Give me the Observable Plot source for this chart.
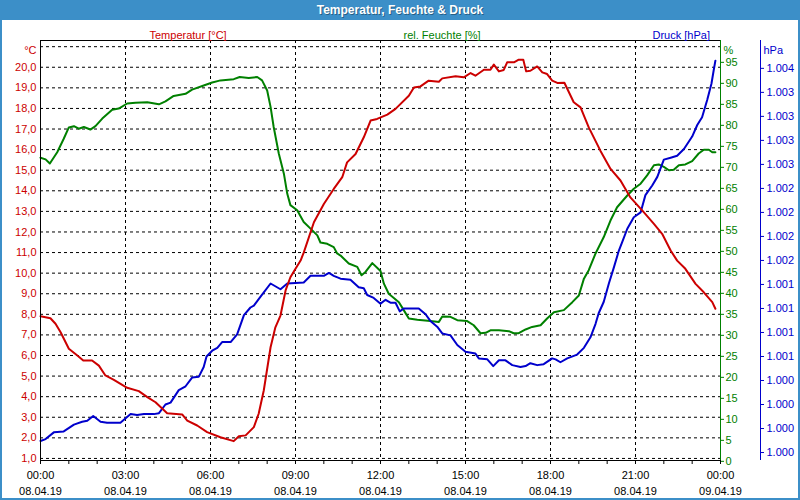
<!DOCTYPE html>
<html><head><meta charset="utf-8">
<script src="https://cdn.jsdelivr.net/npm/d3@7"></script>
<script src="https://cdn.jsdelivr.net/npm/@observablehq/plot@0.6"></script>
<style>
html,body{margin:0;padding:0;background:#fff;}
#win{position:relative;width:800px;height:500px;background:#3c8fc8;overflow:hidden;font-family:"Liberation Sans",Arial,sans-serif;}
#title{position:absolute;left:0;top:0;width:800px;height:20px;line-height:20px;text-align:center;color:#fff;font-weight:bold;font-size:12px;text-shadow:1px 1px 0 rgba(0,0,0,0.35);}
#chart{position:absolute;left:2px;top:20px;width:796px;height:478px;background:#fff;}
</style></head>
<body><div id="win"><div id="title">Temperatur, Feuchte &amp; Druck</div><div id="chart"></div></div>
<script>
// ---- Data (hours since 08.04.19 00:00) ----
const tempHours = [0.00,0.35,0.53,0.71,1.00,1.30,1.51,1.82,2.06,2.29,2.59,3.06,3.47,3.77,4.06,4.47,5.00,5.18,5.53,5.88,6.35,6.82,7.00,7.24,7.53,7.70,7.88,8.12,8.29,8.47,8.65,8.82,9.00,9.18,9.29,9.65,10.00,10.35,10.65,10.82,11.12,11.41,11.65,11.88,12.24,12.53,13.00,13.18,13.41,13.70,14.06,14.18,14.65,14.94,15.18,15.35,15.65,15.88,16.00,16.18,16.35,16.47,16.71,16.88,17.04,17.14,17.29,17.53,17.71,17.88,18.06,18.24,18.49,18.82,19.06,19.35,19.76,20.12,20.47,20.82,21.29,21.65,21.94,22.24,22.47,22.76,23.12,23.41,23.71,23.82];
const tempValues = [7.91,7.81,7.54,7.13,6.33,6.00,5.76,5.76,5.51,5.03,4.82,4.43,4.27,3.98,3.73,3.20,3.14,2.84,2.60,2.28,2.03,1.84,2.08,2.12,2.52,3.17,4.30,6.40,7.37,7.94,9.16,9.80,10.21,10.61,11.00,12.47,13.36,14.09,14.66,15.38,15.79,16.60,17.41,17.49,17.70,17.98,18.62,19.02,19.07,19.35,19.30,19.46,19.56,19.51,19.72,19.59,19.88,19.88,20.13,19.80,19.87,20.24,20.24,20.37,20.37,19.80,19.83,20.04,19.75,19.67,19.35,19.24,19.25,18.30,18.05,17.08,15.95,15.06,14.50,13.68,12.96,12.39,11.91,11.10,10.61,10.21,9.48,9.07,8.59,8.27];

const humHours = [0.00,0.18,0.33,0.59,0.82,1.00,1.18,1.35,1.53,1.76,1.94,2.18,2.53,2.76,3.06,3.35,3.77,4.18,4.41,4.70,5.12,5.35,5.76,6.06,6.35,6.82,7.03,7.35,7.65,7.82,8.00,8.12,8.23,8.41,8.59,8.71,8.82,9.06,9.29,9.53,9.77,9.88,10.12,10.35,10.47,10.59,10.88,11.18,11.33,11.47,11.71,12.00,12.12,12.29,12.65,12.82,13.00,13.30,13.76,14.06,14.18,14.47,14.71,15.06,15.29,15.53,15.71,15.88,16.18,16.53,16.70,16.88,17.12,17.35,17.65,17.88,18.12,18.47,18.77,19.00,19.18,19.35,19.59,19.88,20.12,20.35,20.71,20.94,21.18,21.41,21.65,21.82,22.00,22.18,22.35,22.53,22.76,23.00,23.23,23.41,23.59,23.71,23.82];
const humValues = [72.3,71.9,70.9,73.6,76.8,79.5,79.8,79.2,79.6,79.0,79.8,81.6,83.7,84.0,85.2,85.4,85.5,85.0,85.7,87.0,87.5,88.5,89.5,90.2,90.7,91.0,91.5,91.3,91.5,90.7,88.3,84.4,79.6,73.3,68.5,63.7,61.0,59.8,57.0,55.4,53.8,52.1,51.8,51.0,49.5,49.0,47.1,46.3,44.3,45.1,47.2,45.3,42.3,39.9,37.9,36.0,34.0,33.7,33.4,33.2,34.5,34.4,33.6,33.4,32.4,30.5,30.6,31.2,31.2,31.0,30.5,30.5,31.4,32.0,32.4,34.0,35.5,36.0,37.9,39.5,43.5,45.5,49.5,53.4,57.4,60.5,63.3,64.9,66.1,68.1,70.5,70.7,70.1,69.3,69.4,70.5,70.7,71.5,73.3,74.2,74.2,73.6,73.6];

const presHours = [0.00,0.18,0.47,0.82,1.18,1.47,1.65,1.86,2.12,2.35,2.82,3.18,3.41,3.65,4.00,4.18,4.41,4.59,4.88,5.12,5.35,5.59,5.76,5.86,6.06,6.24,6.41,6.71,6.94,7.18,7.41,7.53,7.76,8.12,8.47,8.71,9.29,9.53,10.00,10.18,10.35,10.59,10.94,11.23,11.41,11.53,11.76,12.00,12.18,12.35,12.53,12.68,12.82,13.35,13.59,13.76,14.00,14.18,14.47,14.71,15.00,15.35,15.47,15.77,15.98,16.18,16.41,16.65,16.94,17.12,17.29,17.53,17.76,18.06,18.18,18.35,18.59,18.94,19.18,19.41,19.59,19.70,19.88,20.06,20.24,20.41,20.53,20.71,20.94,21.18,21.35,21.59,21.77,22.00,22.24,22.47,22.71,23.00,23.18,23.35,23.53,23.68,23.76,23.82];
const presValues = [1000.12,1000.14,1000.21,1000.22,1000.29,1000.32,1000.33,1000.38,1000.32,1000.31,1000.31,1000.40,1000.39,1000.40,1000.40,1000.41,1000.50,1000.52,1000.65,1000.69,1000.78,1000.79,1000.89,1001.00,1001.06,1001.09,1001.15,1001.15,1001.23,1001.43,1001.51,1001.53,1001.62,1001.76,1001.70,1001.76,1001.77,1001.84,1001.84,1001.87,1001.84,1001.81,1001.80,1001.72,1001.71,1001.64,1001.61,1001.55,1001.59,1001.56,1001.56,1001.47,1001.50,1001.50,1001.44,1001.37,1001.31,1001.24,1001.22,1001.12,1001.05,1001.03,1000.98,1000.97,1000.90,1000.96,1000.96,1000.91,1000.89,1000.90,1000.93,1000.91,1000.92,1000.98,1000.97,1000.94,1000.98,1001.02,1001.09,1001.20,1001.34,1001.45,1001.57,1001.76,1001.93,1002.10,1002.19,1002.33,1002.45,1002.50,1002.68,1002.78,1002.87,1003.05,1003.07,1003.09,1003.16,1003.29,1003.41,1003.49,1003.67,1003.84,1003.98,1004.08];

// ---- Axes: ticks and labels ----
const tempTicks = [1,2,3,4,5,6,7,8,9,10,11,12,13,14,15,16,17,18,19,20];
const tempTickLabels = ["1,0","2,0","3,0","4,0","5,0","6,0","7,0","8,0","9,0","10,0","11,0","12,0","13,0","14,0","15,0","16,0","17,0","18,0","19,0","20,0"];
const tempGrid = [1,2,3,4,5,6,7,8,9,10,11,12,13,14,15,16,17,18,19,20,21];
const humTicks = [0,5,10,15,20,25,30,35,40,45,50,55,60,65,70,75,80,85,90,95];
const humTickLabels = ["0","5","10","15","20","25","30","35","40","45","50","55","60","65","70","75","80","85","90","95"];
const presTicks = [1000,1000.25,1000.5,1000.75,1001,1001.25,1001.5,1001.75,1002,1002.25,1002.5,1002.75,1003,1003.25,1003.5,1003.75,1004];
const presTickLabels = ["1.000","1.000","1.000","1.000","1.001","1.001","1.001","1.001","1.002","1.002","1.002","1.002","1.003","1.003","1.003","1.003","1.004"];
const hourTicks = [0,1,2,3,4,5,6,7,8,9,10,11,12,13,14,15,16,17,18,19,20,21,22,23,24];
const majorTicks = [0,3,6,9,12,15,18,21,24];
const timeLabels = ["00:00","03:00","06:00","09:00","12:00","15:00","18:00","21:00","00:00"];
const dateLabels = ["08.04.19","08.04.19","08.04.19","08.04.19","08.04.19","08.04.19","08.04.19","08.04.19","09.04.19"];
const xGrid = [3,6,9,12,15,18,21];

// axis extents (value at bottom / top of the plot frame)
const tLo = 0.9, tHi = 21.3;
const hLo = 0.2, hHi = 100.2;
const pLo = 999.917, pHi = 1004.29;
const hum2t = h => tLo + (h - hLo) / (hHi - hLo) * (tHi - tLo);
const pres2t = p => tLo + (p - pLo) / (pHi - pLo) * (tHi - tLo);

const RED = "#cc0000", GREEN = "#008000", BLUE = "#0000cc";

const tempData = tempHours.map((h, i) => ({h, v: tempValues[i]}));
const humData = humHours.map((h, i) => ({h, v: humValues[i]}));
const presData = presHours.map((h, i) => ({h, v: presValues[i]}));

const tempLabelMap = new Map(tempTicks.map((t, i) => [t, tempTickLabels[i]]));
const humPos = humTicks.map(hum2t);
const humLabelMap = new Map(humPos.map((p, i) => [p, humTickLabels[i]]));
const presPos = presTicks.map(pres2t);
const presLabelMap = new Map(presPos.map((p, i) => [p, presTickLabels[i]]));
const timeMap = new Map(majorTicks.map((t, i) => [t, timeLabels[i]]));
const dateMap = new Map(majorTicks.map((t, i) => [t, dateLabels[i]]));

const dash = {stroke: "#000", strokeOpacity: 1, strokeDasharray: "3,3", strokeWidth: 1};

const chart = Plot.plot({
  width: 796, height: 478,
  marginLeft: 38, marginRight: 78, marginTop: 20, marginBottom: 38,
  style: {fontFamily: "'Liberation Sans', Arial, sans-serif", fontSize: "11px", background: "#fff", overflow: "visible"},
  x: {domain: [0, 24], label: null},
  y: {domain: [tLo, tHi], label: null},
  marks: [
    Plot.gridY(tempGrid, dash),
    Plot.gridX(xGrid, dash),
    Plot.line(humData, {x: "h", y: d => hum2t(d.v), stroke: GREEN, strokeWidth: 2}),
    Plot.line(presData, {x: "h", y: d => pres2t(d.v), stroke: BLUE, strokeWidth: 2}),
    Plot.line(tempData, {x: "h", y: "v", stroke: RED, strokeWidth: 2}),
    Plot.frame({stroke: "#000"}),
    Plot.ruleX([24], {stroke: GREEN}),
    Plot.ruleX([24], {stroke: BLUE, dx: 40}),
    Plot.axisY(tempTicks, {anchor: "left", tickSize: 0, tickPadding: 4, tickFormat: d => tempLabelMap.get(d), color: RED, label: null}),
    Plot.axisY(humPos, {anchor: "right", tickSize: 3, tickPadding: 2, tickFormat: d => humLabelMap.get(d), color: GREEN, label: null}),
    Plot.axisY(presPos, {anchor: "right", dx: 40, tickSize: 3, tickPadding: 3, tickFormat: d => presLabelMap.get(d), color: BLUE, label: null}),
    Plot.axisX(hourTicks, {tickSize: 4, tickFormat: () => "", label: null, color: "#000"}),
    Plot.axisX(majorTicks, {tickSize: 0, tickPadding: 11, tickFormat: d => timeMap.get(d), label: null, color: "#000"}),
    Plot.axisX(majorTicks, {tickSize: 0, tickPadding: 27, tickFormat: d => dateMap.get(d), label: null, color: "#000"}),
    Plot.text(["°C"], {text: d => d, frameAnchor: "top-left", dx: -4, dy: 6, textAnchor: "end", fill: RED}),
    Plot.text(["%"], {text: d => d, frameAnchor: "top-right", dx: 3, dy: 6, textAnchor: "start", fill: GREEN}),
    Plot.text(["hPa"], {text: d => d, frameAnchor: "top-right", dx: 43, dy: 6, textAnchor: "start", fill: BLUE}),
    Plot.text(["Temperatur [°C]"], {text: d => d, frameAnchor: "top-left", dx: 109, dy: -9, fill: RED}),
    Plot.text(["rel. Feuchte [%]"], {text: d => d, frameAnchor: "top-left", dx: 363, dy: -9, fill: GREEN}),
    Plot.text(["Druck [hPa]"], {text: d => d, frameAnchor: "top-left", dx: 612, dy: -9, fill: BLUE})
  ]
});
document.getElementById("chart").appendChild(chart);
</script>
</body></html>
